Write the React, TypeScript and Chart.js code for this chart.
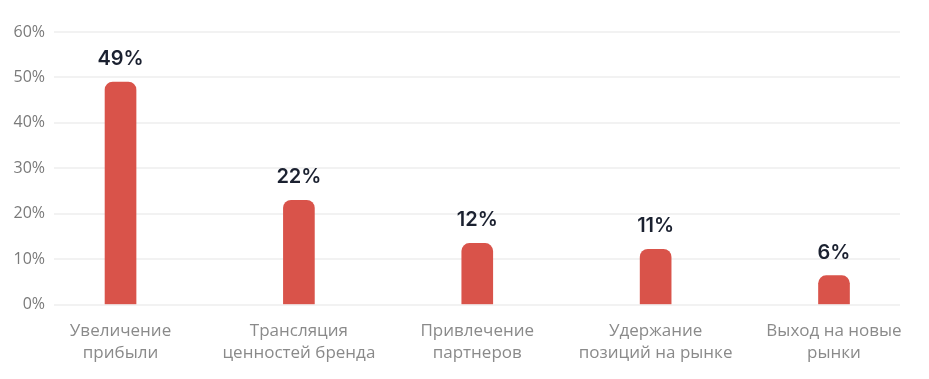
import React, { useEffect, useRef } from "react";
import { Chart, registerables } from "chart.js";

Chart.register(...registerables);

const categories: string[][] = [
  ["Увеличение", "прибыли"],
  ["Трансляция", "ценностей бренда"],
  ["Привлечение", "партнеров"],
  ["Удержание", "позиций на рынке"],
  ["Выход на новые", "рынки"],
];
const values: number[] = [49, 23, 13.5, 12.2, 6.4];
const valueLabels: string[] = ["49%", "22%", "12%", "11%", "6%"];
const yTicks: number[] = [0, 10, 20, 30, 40, 50, 60];

const barLabelPlugin = {
  id: "barLabels",
  afterDatasetsDraw(chart: any) {
    const ctx = chart.ctx;
    const meta = chart.getDatasetMeta(0);
    ctx.save();
    ctx.font = "600 20px Inter";
    ctx.fillStyle = "#1b2130";
    ctx.textAlign = "center";
    ctx.textBaseline = "bottom";
    meta.data.forEach((bar: any, i: number) => {
      ctx.fillText(valueLabels[i], bar.x, bar.y - 13);
    });
    ctx.restore();
  },
};

export default function App() {
  const ref = useRef<HTMLCanvasElement | null>(null);
  useEffect(() => {
    if (!ref.current) return;
    const chart = new Chart(ref.current, {
      type: "bar",
      data: {
        datasets: [
          {
            data: values.map((v, i) => ({ x: i, y: v })),
            backgroundColor: "#d9534a",
            barThickness: 31,
            borderRadius: { topLeft: 8, topRight: 8, bottomLeft: 0, bottomRight: 0 },
            borderSkipped: false,
          },
        ],
      },
      options: {
        animation: false,
        responsive: true,
        maintainAspectRatio: false,
        layout: { padding: { top: 32, right: 29, bottom: 0, left: 0 } },
        plugins: { legend: { display: false }, tooltip: { enabled: false } },
        scales: {
          x: {
            type: "linear",
            offset: false,
            min: -0.373,
            max: 4.37,
            grid: { display: false, drawTicks: false },
            border: { display: false },
            ticks: {
              stepSize: 1,
              includeBounds: false,
              autoSkip: false,
              maxRotation: 0,
              padding: 15,
              color: "#8a8a8a",
              font: { family: "Open Sans", size: 17, lineHeight: 1.3 },
              callback: (v: any) => {
                const n = Number(v);
                return Number.isInteger(n) && categories[n] ? categories[n] : "";
              },
            },
          },
          y: {
            min: yTicks[0],
            max: yTicks[yTicks.length - 1],
            afterFit: (s: any) => {
              s.width = 54;
            },
            grid: { color: "#f2f2f2", lineWidth: 2, drawTicks: false },
            border: { display: false },
            ticks: {
              stepSize: 10,
              padding: 9,
              color: "#7a7a7a",
              font: { family: "Open Sans", size: 16 },
              callback: (v: any) => v + "%",
            },
          },
        },
      },
      plugins: [barLabelPlugin],
    });
    return () => chart.destroy();
  }, []);
  return (
    <div style={{ position: "absolute", left: 0, top: 0, width: 929, height: 379 }}>
      <canvas ref={ref} />
    </div>
  );
}
